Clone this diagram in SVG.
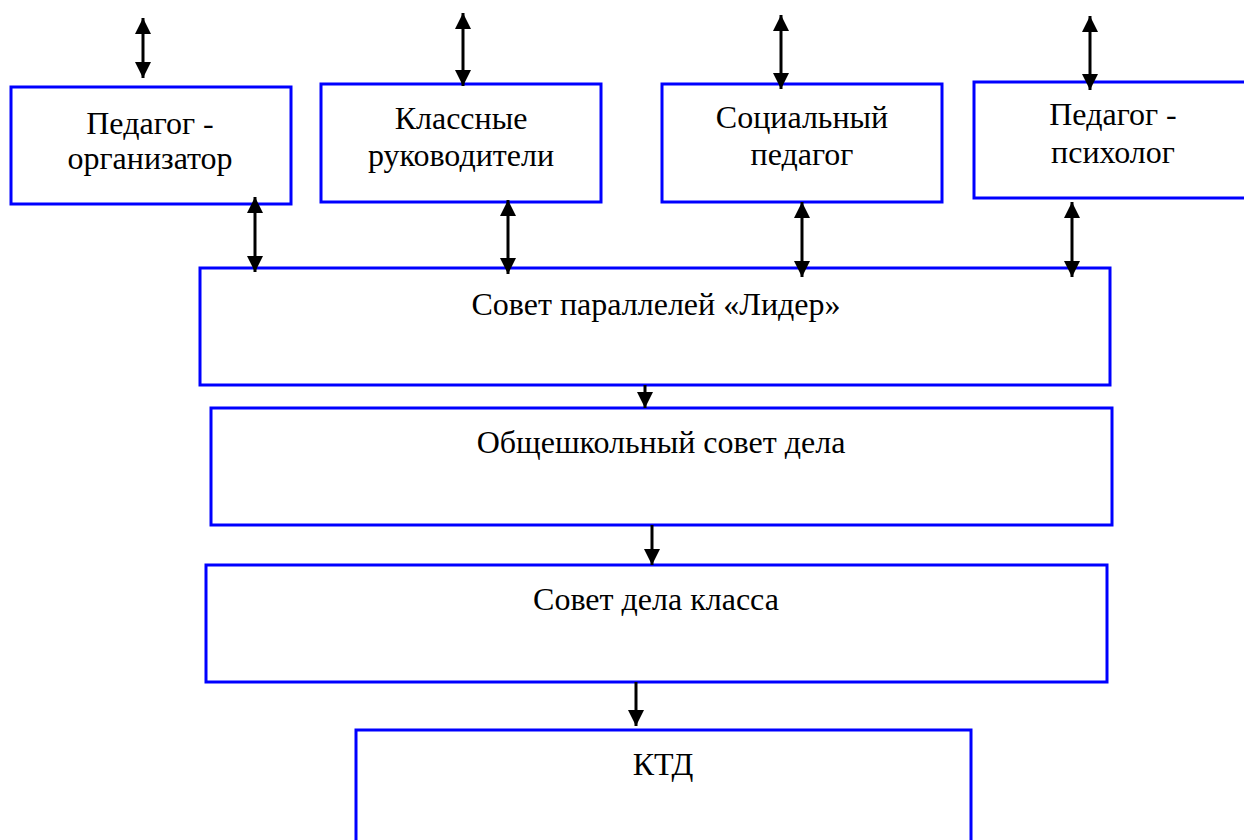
<svg xmlns="http://www.w3.org/2000/svg" width="1244" height="840" viewBox="0 0 1244 840">
<style>
.box{fill:#fff;stroke:#0000ff;stroke-width:3}
.lbl{font-family:"Liberation Serif","Times New Roman",serif;font-size:32px;fill:#000;text-anchor:middle}
.con{stroke:#000;stroke-width:3;fill:none}
.bi{marker-start:url(#ah);marker-end:url(#ah)}
.one{marker-end:url(#ah)}
</style>
<defs>
<marker id="ah" markerUnits="userSpaceOnUse" markerWidth="17" markerHeight="17" refX="16" refY="8" orient="auto-start-reverse">
<path d="M0,0 L16,8 L0,16 z" fill="#000"/>
</marker>
</defs>
<rect width="1244" height="840" fill="#fff"/>
<g id="n1"><rect class="box" x="11" y="87" width="280" height="117"/><text class="lbl" x="150" y="134">Педагог -</text><text class="lbl" x="150" y="169">организатор</text></g>
<g id="n2"><rect class="box" x="321" y="84" width="280" height="118"/><text class="lbl" x="461" y="129">Классные</text><text class="lbl" x="461" y="166">руководители</text></g>
<g id="n3"><rect class="box" x="662" y="84" width="280" height="118"/><text class="lbl" x="802" y="128">Социальный</text><text class="lbl" x="802" y="165">педагог</text></g>
<g id="n4"><rect class="box" x="974" y="82" width="290" height="116"/><text class="lbl" x="1113" y="125">Педагог -</text><text class="lbl" x="1113" y="163">психолог</text></g>
<g id="n5"><rect class="box" x="200" y="268" width="910" height="117"/><text class="lbl" x="656" y="315">Совет параллелей «Лидер»</text></g>
<g id="n6"><rect class="box" x="211" y="408" width="901" height="117"/><text class="lbl" x="661" y="453">Общешкольный совет дела</text></g>
<g id="n7"><rect class="box" x="206" y="565" width="901" height="117"/><text class="lbl" x="656" y="610">Совет дела класса</text></g>
<g id="n8"><rect class="box" x="356" y="730" width="615" height="130"/><text class="lbl" x="663" y="775">КТД</text></g>
<g id="connectors">
<line class="con bi" x1="143" y1="18" x2="143" y2="78"/>
<line class="con bi" x1="463" y1="13" x2="463" y2="86"/>
<line class="con bi" x1="781" y1="15" x2="781" y2="89"/>
<line class="con bi" x1="1090" y1="16" x2="1090" y2="90"/>
<line class="con bi" x1="255" y1="197" x2="255" y2="272"/>
<line class="con bi" x1="508" y1="200" x2="508" y2="274"/>
<line class="con bi" x1="802" y1="202" x2="802" y2="277"/>
<line class="con bi" x1="1072" y1="202" x2="1072" y2="277"/>
<line class="con one" x1="645" y1="385" x2="645" y2="408"/>
<line class="con one" x1="652" y1="525" x2="652" y2="565"/>
<line class="con one" x1="636" y1="682" x2="636" y2="726"/>
</g>
</svg>
